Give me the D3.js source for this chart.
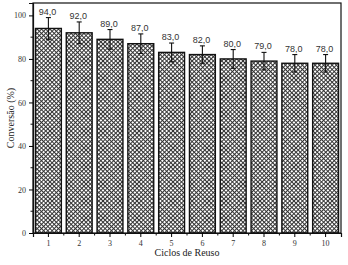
<!DOCTYPE html>
<html>
<head>
<meta charset="utf-8">
<script src="https://cdn.jsdelivr.net/npm/d3@7"></script>
<style>
  body { margin: 0; background: #fff; }
</style>
</head>
<body>
<div id="chart"></div>
<script>
const ciclos = ["1", "2", "3", "4", "5", "6", "7", "8", "9", "10"];
const conversao = [94, 92, 89, 87, 83, 82, 80, 79, 78, 78];
const erro = [5, 5, 4.5, 4.5, 4.3, 4, 4.3, 4, 4, 4];
const yTicks = [0, 20, 40, 60, 80, 100];
const yMinor = [10, 30, 50, 70, 90];

const W = 348, H = 265;
const margin = { top: 3, right: 7, bottom: 32, left: 33 };
const width = W - margin.left - margin.right;
const height = H - margin.top - margin.bottom;

const svg = d3.select("#chart").append("svg")
  .attr("width", W).attr("height", H);

// motivo quadriculado das barras
const defs = svg.append("defs");
const pat = defs.append("pattern")
  .attr("id", "xadrez")
  .attr("patternUnits", "userSpaceOnUse")
  .attr("width", 3).attr("height", 3)
  .attr("patternTransform", "rotate(45)");
pat.append("rect").attr("width", 3).attr("height", 3).attr("fill", "#fff");
pat.append("rect").attr("width", 3).attr("height", 1).attr("fill", "#333");
pat.append("rect").attr("width", 1).attr("height", 3).attr("fill", "#333");

const g = svg.append("g").attr("transform", `translate(${margin.left},${margin.top})`);

const x = d3.scaleBand().domain(ciclos).range([0, width]).paddingInner(0.16).paddingOuter(0.08);
const y = d3.scaleLinear().domain([0, 105.7]).range([height, 0]);

// barras
g.selectAll(".bar").data(ciclos).enter().append("rect")
  .attr("class", "bar")
  .attr("x", d => x(d))
  .attr("y", (d, i) => y(conversao[i]))
  .attr("width", x.bandwidth())
  .attr("height", (d, i) => height - y(conversao[i]))
  .attr("fill", "url(#xadrez)")
  .attr("stroke", "#111").attr("stroke-width", 1.4);

// barras de erro
const eb = g.selectAll(".err").data(ciclos).enter().append("g").attr("class", "err")
  .attr("stroke", "#111").attr("stroke-width", 1.1);
eb.append("line")
  .attr("x1", d => x(d) + x.bandwidth() / 2).attr("x2", d => x(d) + x.bandwidth() / 2)
  .attr("y1", (d, i) => y(conversao[i] + erro[i])).attr("y2", (d, i) => y(conversao[i] - erro[i]));
eb.append("line")
  .attr("x1", d => x(d) + x.bandwidth() / 2 - 2.5).attr("x2", d => x(d) + x.bandwidth() / 2 + 2.5)
  .attr("y1", (d, i) => y(conversao[i] + erro[i])).attr("y2", (d, i) => y(conversao[i] + erro[i]));
eb.append("line")
  .attr("x1", d => x(d) + x.bandwidth() / 2 - 2.5).attr("x2", d => x(d) + x.bandwidth() / 2 + 2.5)
  .attr("y1", (d, i) => y(conversao[i] - erro[i])).attr("y2", (d, i) => y(conversao[i] - erro[i]));

// rótulos de valor
g.selectAll(".val").data(ciclos).enter().append("text")
  .attr("x", d => x(d) + x.bandwidth() / 2 - 1)
  .attr("y", (d, i) => y(conversao[i] + erro[i]) - 3)
  .attr("text-anchor", "middle")
  .attr("font-family", "Liberation Sans, Arial, sans-serif")
  .attr("font-size", 9).attr("fill", "#333")
  .text((d, i) => conversao[i].toFixed(1).replace(".", ","));

// moldura
g.append("rect").attr("width", width).attr("height", height)
  .attr("fill", "none").attr("stroke", "#111").attr("stroke-width", 1.2);

// eixo x
const xAxis = g.append("g").attr("transform", `translate(0,${height})`)
  .call(d3.axisBottom(x).tickSize(4).tickPadding(3));
xAxis.select(".domain").attr("stroke", "#111").attr("stroke-width", 1.2);
xAxis.selectAll("text").attr("font-family", "Liberation Serif, Times New Roman, serif")
  .attr("font-size", 8).attr("fill", "#333");
const xMinor = ciclos.slice(1).map(d => x(d) - x.step() * x.paddingInner() / 2);
xAxis.selectAll(".minor").data(xMinor).enter().append("line")
  .attr("x1", d => d).attr("x2", d => d).attr("y1", 0).attr("y2", 2.5)
  .attr("stroke", "#111");

// eixo y
const yAxis = g.append("g")
  .call(d3.axisLeft(y).tickValues(yTicks).tickSize(4).tickPadding(3));
yAxis.select(".domain").attr("stroke", "#111").attr("stroke-width", 1.2);
yAxis.selectAll("text").attr("font-family", "Liberation Serif, Times New Roman, serif")
  .attr("font-size", 8).attr("fill", "#333");
yAxis.selectAll(".minor").data(yMinor).enter().append("line")
  .attr("x1", 0).attr("x2", -2.5).attr("y1", d => y(d)).attr("y2", d => y(d))
  .attr("stroke", "#111");

// títulos
svg.append("text")
  .attr("x", margin.left + width / 2).attr("y", 256)
  .attr("text-anchor", "middle")
  .attr("font-family", "Liberation Serif, Times New Roman, serif")
  .attr("font-size", 10).attr("fill", "#222")
  .text("Ciclos de Reuso");

svg.append("text")
  .attr("transform", `translate(14,${margin.top + height / 2}) rotate(-90)`)
  .attr("text-anchor", "middle")
  .attr("font-family", "Liberation Serif, Times New Roman, serif")
  .attr("font-size", 10).attr("fill", "#222")
  .text("Conversão (%)");
</script>
</body>
</html>
